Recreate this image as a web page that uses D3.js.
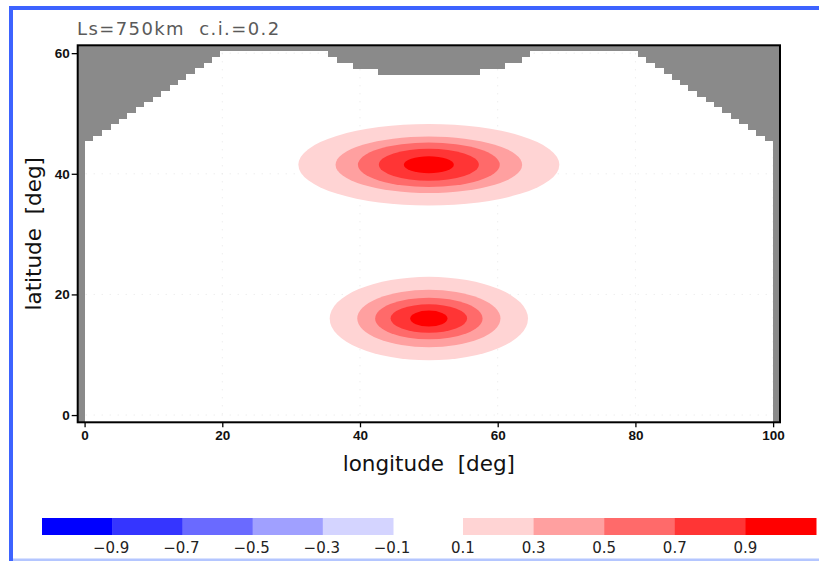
<!DOCTYPE html>
<html><head><meta charset="utf-8">
<script src="https://cdn.jsdelivr.net/npm/d3@7"></script>
<style>body{margin:0;background:#fff} svg{display:block}</style>
</head><body>
<script>
// ---- data ----
const xTicks = [0, 20, 40, 60, 80, 100];
const yTicks = [0, 20, 40, 60];
const levels = [0.1, 0.3, 0.5, 0.7, 0.9];
const posColors = ["#ffd4d4", "#ffa0a0", "#ff6a6a", "#ff3535", "#ff0000"];
const negLevels = [-1.1, -0.9, -0.7, -0.5, -0.3];
const negColors = ["#0000ff", "#3535ff", "#6a6aff", "#a0a0ff", "#d4d4ff"];
const negTicks = [-0.9, -0.7, -0.5, -0.3, -0.1];
const posTicks = [0.1, 0.3, 0.5, 0.7, 0.9];
const blobLon = [50, 50];
const blobLat = [41.5, 16.0];
const blobHalfLon = [[18.95, 13.55, 10.3, 7.26, 3.63], [14.4, 10.4, 7.8, 5.56, 2.71]];
const blobHalfLat = [[6.76, 4.68, 3.68, 2.65, 1.41], [6.91, 4.76, 3.45, 2.35, 1.33]];
const maskEdges = [-1, 0, 1.2, 2.5, 3.7, 4.9, 6.1, 7.4, 8.6, 9.8, 11.0, 12.3, 13.5, 14.7, 15.9, 17.2, 18.4, 19.6,
  35.4, 36.6, 39.0, 42.6, 57.4, 61.0, 63.4, 64.6,
  80.4, 81.6, 82.8, 84.1, 85.3, 86.5, 87.7, 89.0, 90.2, 91.4, 92.6, 93.9, 95.1, 96.3, 97.5, 98.8, 100, 101];
const maskBottom = [-1.2, 45.4, 46.3, 47.3, 48.2, 49.1, 50.1, 51.0, 51.9, 52.8, 53.8, 54.7, 55.6, 56.6, 57.5, 58.4, 59.4,
  60.3, 59.4, 58.3, 57.4, 56.3, 57.4, 58.3, 59.4, 60.3,
  59.4, 58.4, 57.5, 56.6, 55.6, 54.7, 53.8, 52.8, 51.9, 51.0, 50.1, 49.1, 48.2, 47.3, 46.3, 45.4, -1.2];
const lonDomain = [-1, 101];
const latDomain = [-1.2, 61.3];

// ---- drawing ----
const W = 819, H = 561;
const svg = d3.select("body").append("svg").attr("width", W).attr("height", H);
svg.append("rect").attr("width", W).attr("height", H).attr("fill", "#fff");

// frame border
svg.append("rect").attr("x", 9).attr("y", 6).attr("width", W - 9).attr("height", 4).attr("fill", "#3d63ff");
svg.append("rect").attr("x", 9).attr("y", 6).attr("width", 4).attr("height", H - 6).attr("fill", "#3d63ff");
svg.append("rect").attr("x", 13).attr("y", 558.5).attr("width", W - 13).attr("height", 3).attr("fill", "#b4c6ff");

const x = d3.scaleLinear().domain(lonDomain).range([77.7, 780]);
const y = d3.scaleLinear().domain(latDomain).range([422.3, 45.3]);

svg.append("defs").append("clipPath").attr("id", "clip")
  .append("rect").attr("x", x(lonDomain[0])).attr("y", y(latDomain[1]))
  .attr("width", x(lonDomain[1]) - x(lonDomain[0])).attr("height", y(latDomain[0]) - y(latDomain[1]));

const plot = svg.append("g").attr("clip-path", "url(#clip)");

// faint dotted grid
plot.selectAll(".gx").data(xTicks).join("line")
  .attr("x1", d => x(d)).attr("x2", d => x(d)).attr("y1", y(latDomain[0])).attr("y2", y(latDomain[1]))
  .attr("stroke", "#e6e6e6").attr("stroke-width", 1).attr("stroke-dasharray", "1,7");
plot.selectAll(".gy").data(yTicks).join("line")
  .attr("y1", d => y(d)).attr("y2", d => y(d)).attr("x1", x(lonDomain[0])).attr("x2", x(lonDomain[1]))
  .attr("stroke", "#e6e6e6").attr("stroke-width", 1).attr("stroke-dasharray", "1,7");

// blobs (filled contour levels, outer to inner)
blobLon.forEach((lon, b) => {
  levels.forEach((lv, i) => {
    plot.append("ellipse")
      .attr("cx", x(lon)).attr("cy", y(blobLat[b]))
      .attr("rx", x(lon + blobHalfLon[b][i]) - x(lon))
      .attr("ry", y(blobLat[b]) - y(blobLat[b] + blobHalfLat[b][i]))
      .attr("fill", posColors[i]);
  });
});

// topography mask
plot.selectAll(".mask").data(maskBottom).join("rect")
  .attr("x", (d, i) => x(maskEdges[i]))
  .attr("width", (d, i) => x(maskEdges[i + 1]) - x(maskEdges[i]) + 0.5)
  .attr("y", y(latDomain[1]))
  .attr("height", d => y(d) - y(latDomain[1]))
  .attr("fill", "#8a8a8a").attr("shape-rendering", "crispEdges");

// plot frame
svg.append("rect").attr("x", x(lonDomain[0])).attr("y", y(latDomain[1]))
  .attr("width", x(lonDomain[1]) - x(lonDomain[0])).attr("height", y(latDomain[0]) - y(latDomain[1]))
  .attr("fill", "none").attr("stroke", "#000").attr("stroke-width", 2);

// axes
const xAxis = d3.axisBottom(x).tickValues(xTicks).tickSize(5).tickPadding(3).tickFormat(d3.format("d"));
const yAxis = d3.axisLeft(y).tickValues(yTicks).tickSize(6).tickPadding(2).tickFormat(d3.format("d"));
const gx = svg.append("g").attr("transform", `translate(0,${y(latDomain[0])})`).call(xAxis);
const gy = svg.append("g").attr("transform", `translate(${x(lonDomain[0])},0)`).call(yAxis);
[gx, gy].forEach(g => {
  g.select(".domain").remove();
  g.selectAll(".tick line").attr("stroke", "#000").attr("stroke-width", 1.3);
  g.selectAll(".tick text").attr("font-family", "Liberation Sans, Arial, sans-serif")
    .attr("font-weight", "bold").attr("font-size", 13.5).attr("fill", "#111");
});

// titles
svg.append("text").attr("x", 77).attr("y", 35).style("white-space", "pre")
  .attr("font-family", "DejaVu Sans").attr("font-size", 18).attr("letter-spacing", 1.4)
  .attr("fill", "#5a5a5a").text("Ls=750km  c.i.=0.2");
svg.append("text").attr("x", (x(lonDomain[0]) + x(lonDomain[1])) / 2).attr("y", 471)
  .attr("text-anchor", "middle").attr("font-family", "DejaVu Sans").attr("font-size", 21.5)
  .attr("fill", "#111").style("white-space", "pre").text("longitude  [deg]");
svg.append("text").attr("transform", `translate(41,${(y(latDomain[0]) + y(latDomain[1])) / 2}) rotate(-90)`)
  .attr("text-anchor", "middle").attr("font-family", "DejaVu Sans").attr("font-size", 21.5)
  .attr("fill", "#111").style("white-space", "pre").text("latitude  [deg]");

// colorbar
const cbNeg = d3.scaleLinear().domain([-1.1, -0.1]).range([42, 393]);
const cbPos = d3.scaleLinear().domain([0.1, 1.1]).range([463, 816]);
const cb = svg.append("g");
cb.selectAll(".nb").data(negLevels).join("rect")
  .attr("x", d => cbNeg(d)).attr("width", d => cbNeg(d + 0.2) - cbNeg(d) + 0.5)
  .attr("y", 518).attr("height", 17).attr("fill", (d, i) => negColors[i]);
cb.selectAll(".pb").data(levels).join("rect")
  .attr("x", d => cbPos(d)).attr("width", d => cbPos(d + 0.2) - cbPos(d) + 0.5)
  .attr("y", 518).attr("height", 17).attr("fill", (d, i) => posColors[i]);
const fmt = d3.format(".1f");
cb.selectAll(".nl").data(negTicks).join("text")
  .attr("x", d => cbNeg(d) - 1).attr("y", 553).attr("text-anchor", "middle")
  .attr("font-family", "DejaVu Sans").attr("font-size", 15).attr("fill", "#222").text(d => fmt(d));
cb.selectAll(".pl").data(posTicks).join("text")
  .attr("x", d => cbPos(d)).attr("y", 553).attr("text-anchor", "middle")
  .attr("font-family", "DejaVu Sans").attr("font-size", 15).attr("fill", "#222").text(d => fmt(d));
</script>
</body></html>
